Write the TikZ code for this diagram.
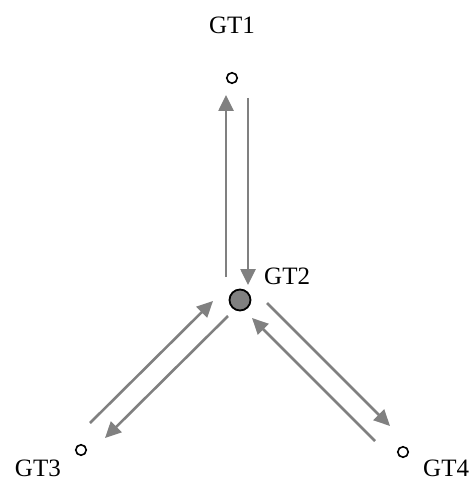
\documentclass[tikz,border=0pt]{standalone}
\usepackage{fontspec}
\setmainfont{Liberation Serif}
\usepackage{xcolor}
\usepackage{tikz}
\usetikzlibrary{arrows.meta, positioning, calc}
\definecolor{mygray}{RGB}{128,128,128}
\definecolor{mydark}{RGB}{0,0,0}
\tikzset{
  station/.style={circle, draw=mydark, fill=white,
    minimum size=10.5pt, inner sep=0pt, line width=1.6pt},
  hub/.style={circle, draw=mydark, fill=mygray,
    minimum size=21pt, inner sep=0pt, line width=1.8pt},
  lbl/.style={inner sep=0pt, font=\fontsize{25}{30}\selectfont},
  flow/.style={-{Triangle[length=16pt, width=15pt]}, line width=2.6pt, color=mygray}
}
\begin{document}
\begin{tikzpicture}[x=1pt, y=-1pt]
  \useasboundingbox (0,0) rectangle (472,481);
  % stations
  \node[hub]     (gt2) at (240,300) {};
  \node[station] (gt1) at (232,78)  {};
  \node[station] (gt3) at (81,450)  {};
  \node[station] (gt4) at (403,452) {};
  % labels
  \node[lbl, above=44pt of gt1.center]                  (l1) {GT1};
  \node[lbl, above right=15pt and 24pt of gt2.center]   (l2) {GT2};
  \node[lbl, below left=9.5pt and 20pt of gt3.center]   (l3) {GT3};
  \node[lbl, below right=8pt and 20pt of gt4.center]    (l4) {GT4};
  % flows
  \draw[flow] ($(gt2)+(-14,-23)$) -- ($(gt1)+(-6,17)$);
  \draw[flow] ($(gt1)+(16,20)$)   -- ($(gt2)+(8,-15)$);
  \draw[flow] ($(gt3)+(9,-27)$)   -- ($(gt2)+(-27,1)$);
  \draw[flow] ($(gt2)+(-12,16)$)  -- ($(gt3)+(24,-12)$);
  \draw[flow] ($(gt2)+(27,3)$)    -- ($(gt4)+(-13,-26)$);
  \draw[flow] ($(gt4)+(-28,-11)$) -- ($(gt2)+(12,18)$);
\end{tikzpicture}
\end{document}
